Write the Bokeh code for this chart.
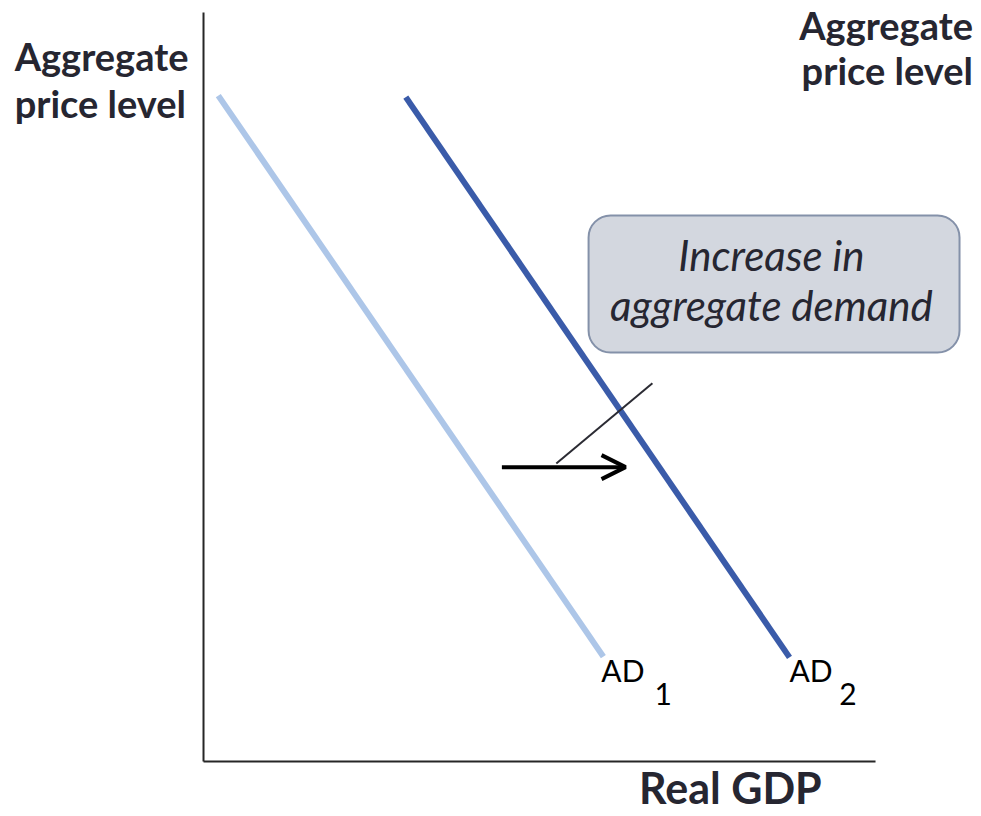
from bokeh.plotting import figure
from bokeh.models import Range1d, Arrow, OpenHead, BoxAnnotation
from bokeh.core.properties import value
from bokeh.embed import file_html
from bokeh.resources import INLINE

# Aggregate demand curves (real GDP vs aggregate price level)
gdp_ad1 = [2.2, 59.5]
price_ad1 = [88.9, 14.0]
gdp_ad2 = [30.1, 87.2]
price_ad2 = [88.7, 13.9]

# Rightward shift arrow
shift_gdp = [44.4, 62.8]
shift_price = [39.3, 39.3]

# Callout pointer and box
pointer_gdp = [52.5, 66.8]
pointer_price = [39.8, 50.5]
callout_gdp = [57.3, 112.5]
callout_price = [54.6, 72.9]

callout_lines = ["Increase in", "aggregate demand"]
curve_names = ["AD", "AD"]
curve_subs = ["1", "2"]

FONT = value("Lato")
TEXT = "#262631"
LIFT = 1.85  # baseline correction for text placement, in price units

p = figure(width=981, height=816, output_backend="svg", toolbar_location=None,
           x_range=Range1d(-30.21, 115.77), y_range=Range1d(-7.34, 101.6),
           min_border=0, outline_line_color=None)
p.axis.visible = False
p.grid.visible = False
p.background_fill_color = "white"
p.border_fill_color = "white"

# Axes
p.line([0, 0], [0, 100], line_color="#262626", line_width=2)
p.line([0, 100], [0, 0], line_color="#262626", line_width=2)

# Curves
p.line(gdp_ad1, price_ad1, line_color="#adc6e8", line_width=6)
p.line(gdp_ad2, price_ad2, line_color="#3a5ba9", line_width=6)

# Callout box
p.add_layout(BoxAnnotation(left=callout_gdp[0], right=callout_gdp[1],
                           bottom=callout_price[0], top=callout_price[1],
                           border_radius=22, fill_color="#d3d7df", fill_alpha=1.0,
                           line_color="#8491a9", line_alpha=1.0, line_width=2,
                           level="underlay"))
p.text([84.5, 84.5], [65.8 + LIFT, 59.1 + LIFT], text=callout_lines, text_align="center",
       text_baseline="alphabetic", text_font=FONT, text_font_style="italic",
       text_font_size="42px", text_color=TEXT)

# Pointer and shift arrow
p.line(pointer_gdp, pointer_price, line_color="#2b2b33", line_width=2)
p.add_layout(Arrow(x_start=shift_gdp[0], y_start=shift_price[0],
                   x_end=shift_gdp[1], y_end=shift_price[1],
                   line_color="black", line_width=4,
                   end=OpenHead(size=24, line_color="black", line_width=4)))

# Curve labels
p.text([59.2, 87.2], [10.4 + LIFT, 10.4 + LIFT], text=curve_names, text_align="left",
       text_baseline="alphabetic", text_font=FONT, text_font_size="30px", text_color="black")
p.text([67.1, 94.6], [7.2 + LIFT, 7.2 + LIFT], text=curve_subs, text_align="left",
       text_baseline="alphabetic", text_font=FONT, text_font_size="30px", text_color="black")

# Axis titles
p.text([-28.1, -28.1], [92.3 + LIFT, 86.0 + LIFT], text=["Aggregate", "price level"],
       text_align="left", text_baseline="alphabetic", text_font=FONT,
       text_font_style="bold", text_font_size="38px", text_color=TEXT)
p.text([114.5, 114.5], [96.5 + LIFT, 90.5 + LIFT], text=["Aggregate", "price level"],
       text_align="right", text_baseline="alphabetic", text_font=FONT,
       text_font_style="bold", text_font_size="38px", text_color=TEXT)
p.text([78.4], [-5.3 + LIFT], text=["Real GDP"], text_align="center",
       text_baseline="alphabetic", text_font=FONT, text_font_style="bold",
       text_font_size="43px", text_color=TEXT)

open("out.html", "w").write(file_html(p, INLINE))
